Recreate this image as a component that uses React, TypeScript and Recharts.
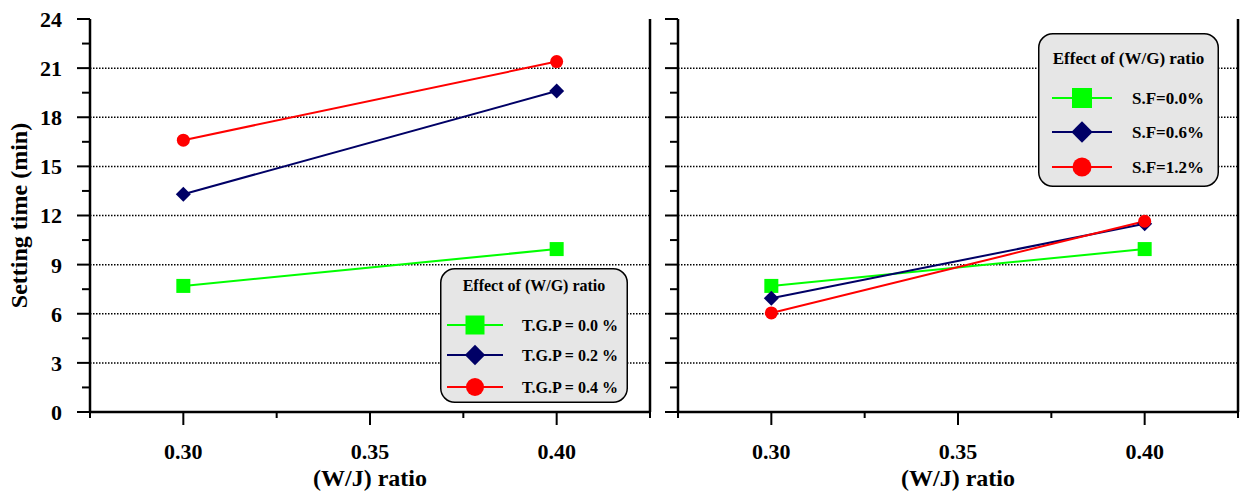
import React from "react"
import { CartesianGrid, Line, LineChart, XAxis, YAxis } from "recharts"

// W/J ratio on the x axis, setting time (min) on y
const wjRatio = [0.3, 0.4]

const tgpNames = ["T.G.P = 0.0 %", "T.G.P = 0.2 %", "T.G.P = 0.4 %"]
const tgp00 = [7.7, 9.95]
const tgp02 = [13.3, 19.6]
const tgp04 = [16.6, 21.4]

const sfNames = ["S.F=0.0%", "S.F=0.6%", "S.F=1.2%"]
const sf00 = [7.7, 9.95]
const sf06 = [6.95, 11.5]
const sf12 = [6.05, 11.65]

const xMajor = [0.3, 0.35, 0.4]
const xMinor = [0.275, 0.325, 0.375, 0.425]
const yMajor = [0, 3, 6, 9, 12, 15, 18, 21, 24]
const yMinor = [1.5, 4.5, 7.5, 10.5, 13.5, 16.5, 19.5, 22.5]
const gridY = [3, 6, 9, 12, 15, 18, 21]

const legendTitle = "Effect of (W/G) ratio"
const xTitle = "(W/J) ratio"
const yTitle = "Setting time (min)"

const colors = ["#00ff00", "#000066", "#ff0000"]
const shapes = ["square", "diamond", "circle"]

const FONT = "'Liberation Serif', 'Times New Roman', serif"
const xAll = [...xMajor, ...xMinor].sort((a, b) => a - b)
const yAll = [...yMajor, ...yMinor].sort((a, b) => a - b)
const near = (arr: number[], v: number) => arr.some((a) => Math.abs(a - v) < 1e-6)

const makeRows = (vals: number[][]) =>
    wjRatio.map((x, i) => ({ x, s0: vals[0][i], s1: vals[1][i], s2: vals[2][i] }))

const leftRows = makeRows([tgp00, tgp02, tgp04])
const rightRows = makeRows([sf00, sf06, sf12])

const Marker = ({ shape, cx, cy, s, color }: { shape: string; cx: number; cy: number; s: number; color: string }) => {
    if (shape === "square") return <rect x={cx - s / 2} y={cy - s / 2} width={s} height={s} fill={color} />
    if (shape === "diamond") {
        const h = (s / 2) * 1.07
        return <polygon points={`${cx},${cy - h} ${cx + h},${cy} ${cx},${cy + h} ${cx - h},${cy}`} fill={color} />
    }
    return <circle cx={cx} cy={cy} r={s / 2 - 0.5} fill={color} />
}

const axisLine = { stroke: "#000", strokeWidth: 2.5 }
const tickText = { fontFamily: FONT, fontWeight: "bold" as const, fontSize: 22, fill: "#000" }
const titleText = { ...tickText, fontSize: 24 }

const BottomTick = (p: any) => {
    const major = near(xMajor, p.payload.value)
    return (
        <g>
            <line x1={p.x} x2={p.x} y1={p.y} y2={p.y + (major ? 13 : 6)} stroke="#000" strokeWidth={2} />
            {major && (
                <text x={p.x} y={p.y + 47} textAnchor="middle" style={tickText}>
                    {p.payload.value.toFixed(2)}
                </text>
            )}
        </g>
    )
}

const TopTick = (p: any) => <line x1={p.x} x2={p.x} y1={p.y} y2={p.y + 14} stroke="#000" strokeWidth={2} />

const leftTick = (labels: boolean) => (p: any) => {
    const major = near(yMajor, p.payload.value)
    return (
        <g>
            <line x1={p.x} x2={p.x - (major ? 13 : 8)} y1={p.y} y2={p.y} stroke="#000" strokeWidth={2} />
            {labels && major && (
                <text x={p.x - 28} y={p.y} dy="0.36em" textAnchor="end" style={tickText}>
                    {p.payload.value}
                </text>
            )}
        </g>
    )
}

const rightTick = (outward: boolean) => (p: any) => {
    const major = near(yMajor, p.payload.value)
    const len = major ? 13 : 7
    return <line x1={p.x} x2={outward ? p.x + len : p.x - len} y1={p.y} y2={p.y} stroke="#000" strokeWidth={2} />
}

interface PanelProps {
    rows: { x: number; s0: number; s1: number; s2: number }[]
    left: number
    width: number
    yAxisWidth: number
    rightAxisWidth: number
    showYLabels: boolean
    rightOutward: boolean
}

const Panel = ({ rows, left, width, yAxisWidth, rightAxisWidth, showYLabels, rightOutward }: PanelProps) => (
    <div style={{ position: "absolute", left, top: 0 }}>
        <LineChart width={width} height={494} data={rows} margin={{ top: 19, right: 0, bottom: 0, left: 0 }}>
            <CartesianGrid
                xAxisId="b"
                yAxisId="l"
                vertical={false}
                horizontalValues={gridY}
                stroke="#000"
                strokeDasharray="1.5 1.5"
                strokeWidth={1.5}
            />
            <XAxis
                xAxisId="b"
                dataKey="x"
                type="number"
                domain={[0.275, 0.425]}
                ticks={xAll}
                interval={0}
                height={82}
                tickSize={0}
                tickMargin={0}
                tickLine={false}
                axisLine={axisLine}
                tick={BottomTick}
                label={{
                    content: (lp: any) => {
                        const vb = lp.viewBox
                        return (
                            <text x={vb.x + vb.width / 2} y={vb.y + 74} textAnchor="middle" style={titleText}>
                                {xTitle}
                            </text>
                        )
                    },
                }}
            />
            <XAxis
                xAxisId="t"
                orientation="top"
                type="number"
                domain={[0.275, 0.425]}
                ticks={xMajor}
                interval={0}
                height={0}
                tickSize={0}
                tickMargin={0}
                tickLine={false}
                axisLine={axisLine}
                tick={TopTick}
            />
            <YAxis
                yAxisId="l"
                type="number"
                domain={[0, 24]}
                ticks={yAll}
                interval={0}
                width={yAxisWidth}
                tickSize={0}
                tickMargin={0}
                tickLine={false}
                axisLine={axisLine}
                tick={leftTick(showYLabels)}
                label={
                    showYLabels
                        ? {
                              content: (lp: any) => {
                                  const vb = lp.viewBox
                                  const cx = vb.x + 27
                                  const cy = vb.y + vb.height / 2
                                  return (
                                      <text
                                          x={cx}
                                          y={cy}
                                          textAnchor="middle"
                                          transform={`rotate(-90 ${cx} ${cy})`}
                                          style={titleText}
                                      >
                                          {yTitle}
                                      </text>
                                  )
                              },
                          }
                        : undefined
                }
            />
            <YAxis
                yAxisId="r"
                orientation="right"
                type="number"
                domain={[0, 24]}
                ticks={yAll}
                interval={0}
                width={rightAxisWidth}
                tickSize={0}
                tickMargin={0}
                tickLine={false}
                axisLine={axisLine}
                tick={rightTick(rightOutward)}
            />
            {["s0", "s1", "s2"].map((k, i) => (
                <Line
                    key={k}
                    xAxisId="b"
                    yAxisId="l"
                    dataKey={k}
                    stroke={colors[i]}
                    strokeWidth={2}
                    isAnimationActive={false}
                    activeDot={false}
                    dot={(d: any) => <Marker key={`${k}-${d.index}`} shape={shapes[i]} cx={d.cx} cy={d.cy} s={14} color={colors[i]} />}
                />
            ))}
        </LineChart>
    </div>
)

interface LegendBoxProps {
    left: number
    top: number
    width: number
    height: number
    names: string[]
    fontSize: number
    titleY: number
    rowY: number[]
    lineX: [number, number]
    labelX: number
    markerSize: number
}

const LegendBox = ({ left, top, width, height, names, fontSize, titleY, rowY, lineX, labelX, markerSize }: LegendBoxProps) => {
    const mid = (lineX[0] + lineX[1]) / 2
    const txt = { fontFamily: FONT, fontWeight: "bold" as const, fontSize, fill: "#000" }
    return (
        <svg width={width} height={height} style={{ position: "absolute", left, top }}>
            <rect x={0.75} y={0.75} width={width - 1.5} height={height - 1.5} rx={14} fill="#e6e6e6" stroke="#000" strokeWidth={1.5} />
            <text x={width / 2} y={titleY} dy="0.35em" textAnchor="middle" style={txt}>
                {legendTitle}
            </text>
            {names.map((n, i) => (
                <g key={n}>
                    <line x1={lineX[0]} x2={lineX[1]} y1={rowY[i]} y2={rowY[i]} stroke={colors[i]} strokeWidth={2} />
                    <Marker shape={shapes[i]} cx={mid} cy={rowY[i]} s={markerSize} color={colors[i]} />
                    <text x={labelX} y={rowY[i]} dy="0.35em" style={txt}>
                        {n}
                    </text>
                </g>
            ))}
        </svg>
    )
}

export default function App() {
    return (
        <div style={{ position: "absolute", left: 0, top: 0, width: 1250, height: 494, background: "#fff" }}>
            <Panel rows={leftRows} left={0} width={660} yAxisWidth={90} rightAxisWidth={10} showYLabels rightOutward={false} />
            <Panel rows={rightRows} left={654} width={596} yAxisWidth={24} rightAxisWidth={12} showYLabels={false} rightOutward />
            <LegendBox
                left={440}
                top={268}
                width={188}
                height={135}
                names={tgpNames}
                fontSize={16}
                titleY={17}
                rowY={[57, 87, 119]}
                lineX={[7, 63]}
                labelX={82}
                markerSize={19}
            />
            <LegendBox
                left={1038}
                top={33}
                width={181}
                height={154}
                names={sfNames}
                fontSize={17}
                titleY={25}
                rowY={[65, 99, 134]}
                lineX={[14, 74]}
                labelX={94}
                markerSize={20}
            />
        </div>
    )
}
